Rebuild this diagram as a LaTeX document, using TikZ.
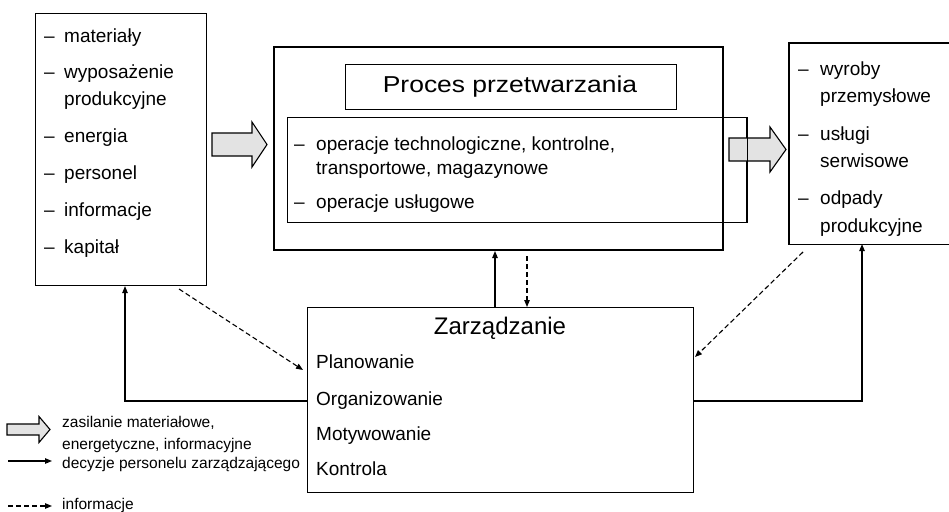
\documentclass[tikz,border=0pt]{standalone}
\usepackage{fontspec}
\setmainfont{Liberation Sans}
\usepackage{graphicx}
\usetikzlibrary{arrows.meta}
\begin{document}
\begin{tikzpicture}[x=1pt,y=-1pt,
  box/.style={draw, line width=1.1pt, inner sep=0pt, anchor=north west},
  item/.style={anchor=west, inner sep=0pt, font=\fontsize{19}{22}\selectfont, text height=14pt, text depth=4pt},
  leg/.style={anchor=west, inner sep=0pt, font=\fontsize{15.5}{18}\selectfont, text height=11.5pt, text depth=3.5pt},
  dec/.style={line width=1.1pt, -{Triangle[length=7pt,width=5.5pt]}},
  inf/.style={dec, dash pattern=on 5pt off 3pt},
  flow/.style={draw, line width=1.1pt, fill=gray!22, line join=miter},
]
\useasboundingbox (0,0) rectangle (949,511);

% ---- boxes ----
\node[box, minimum width=171pt, minimum height=272pt] (lb) at (35,13) {};
\node[box, line width=2pt, minimum width=449pt, minimum height=203pt] (proc) at (273,46) {};
\node[box, minimum width=331pt, minimum height=45pt] (title) at (345,64) {};
\node[box, minimum width=459pt, minimum height=105pt] (ops) at (287,117) {};
\node[box, draw=none, minimum width=170pt, minimum height=200pt] (rb) at (789,43) {};
\draw[line width=1.1pt] (rb.north east) -- (rb.north west) -- (rb.south west) -- (rb.south east);
\node[box, minimum width=386pt, minimum height=185pt] (mg) at (307,307) {};

% ---- left box text ----
\foreach \y/\t in {37/materiały, 73/wyposażenie, 137/energia, 174/personel, 211/informacje, 248/kapitał}
  \node[item] at (44,\y) {–};
\node[item] (l1) at (64,37) {materiały};
\node[item] (l2) at (64,73) {wyposażenie};
\node[item] (l2b) at (64,100) {produkcyjne};
\node[item] (l3) at (64,137) {energia};
\node[item] (l4) at (64,174) {personel};
\node[item] (l5) at (64,211) {informacje};
\node[item] (l6) at (64,248) {kapitał};

% ---- process ----
\node[inner sep=0pt, font=\fontsize{23}{26}\selectfont] (tt) at (510,87) {\scalebox{1.15}[1]{Proces przetwarzania}};
\node[item] at (294,145) {–};
\node[item] (o1) at (316,145) {operacje technologiczne, kontrolne,};
\node[item] (o1b) at (316,169) {transportowe, magazynowe};
\node[item] at (294,203) {–};
\node[item] (o2) at (316,203) {operacje usługowe};

% ---- right box text ----
\node[item] at (798,70) {–};
\node[item] (r1) at (820,70) {wyroby};
\node[item] (r1b) at (820,97) {przemysłowe};
\node[item] at (798,135) {–};
\node[item] (r2) at (820,135) {usługi};
\node[item] (r2b) at (820,162) {serwisowe};
\node[item] at (798,199) {–};
\node[item] (r3) at (820,199) {odpady};
\node[item] (r3b) at (820,227) {produkcyjne};

% ---- management ----
\node[inner sep=0pt, font=\fontsize{24}{27}\selectfont] (mt) at (500,328) {Zarządzanie};
\node[item] (m1) at (316,363) {Planowanie};
\node[item] (m2) at (316,400) {Organizowanie};
\node[item] (m3) at (316,435) {Motywowanie};
\node[item] (m4) at (316,470) {Kontrola};

% ---- block arrows ----
\draw[flow] (212,133) -- (252,133) -- (252,122) -- (267,144.5) -- (252,167) -- (252,156) -- (212,156) -- cycle;
\draw[flow] (729,138) -- (770,138) -- (770,127) -- (786,149.5) -- (770,172) -- (770,161) -- (729,161) -- cycle;
% ops box right edge passes over the arrow shaft
\draw[line width=1.1pt] (ops.north east) -- (ops.south east);

% ---- connectors ----
\coordinate (xu) at (495,0);
\coordinate (xd) at (527,0);
\coordinate (yl) at (0,401);
\coordinate (xl) at (125,0);
\coordinate (xr) at (862,0);
\draw[dec] (mg.north -| xu) -- (proc.south -| xu);
\draw[inf] ([yshift=-5pt]proc.south -| xd) -- (mg.north -| xd);
\draw[dec] (mg.west |- yl) -| (lb.south -| xl);
\draw[dec] (mg.east |- yl) -| (rb.south -| xr);
\coordinate (dl) at (179,289);
\coordinate (dlt) at (303,370);
\draw[inf] (dl) -- (dlt);
\coordinate (dr) at (803,252);
\coordinate (drt) at (695,357);
\draw[inf] (dr) -- (drt);

% ---- legend ----
\draw[flow] (7,424) -- (39,424) -- (39,416.5) -- (50,429.5) -- (39,442.5) -- (39,435) -- (7,435) -- cycle;
\node[leg] (g1) at (62,423) {zasilanie materiałowe,};
\node[leg] (g1b) at (62,445) {energetyczne, informacyjne};
\coordinate (ga) at (8,461);
\node[leg] (g2) at (62,464) {decyzje personelu zarządzającego};
\draw[dec] (ga) -- (ga -| 52,0);
\coordinate (gb) at (8,506);
\node[leg] (g3) at (62,505) {informacje};
\draw[inf] (gb) -- (gb -| 52,0);
\end{tikzpicture}
\end{document}
